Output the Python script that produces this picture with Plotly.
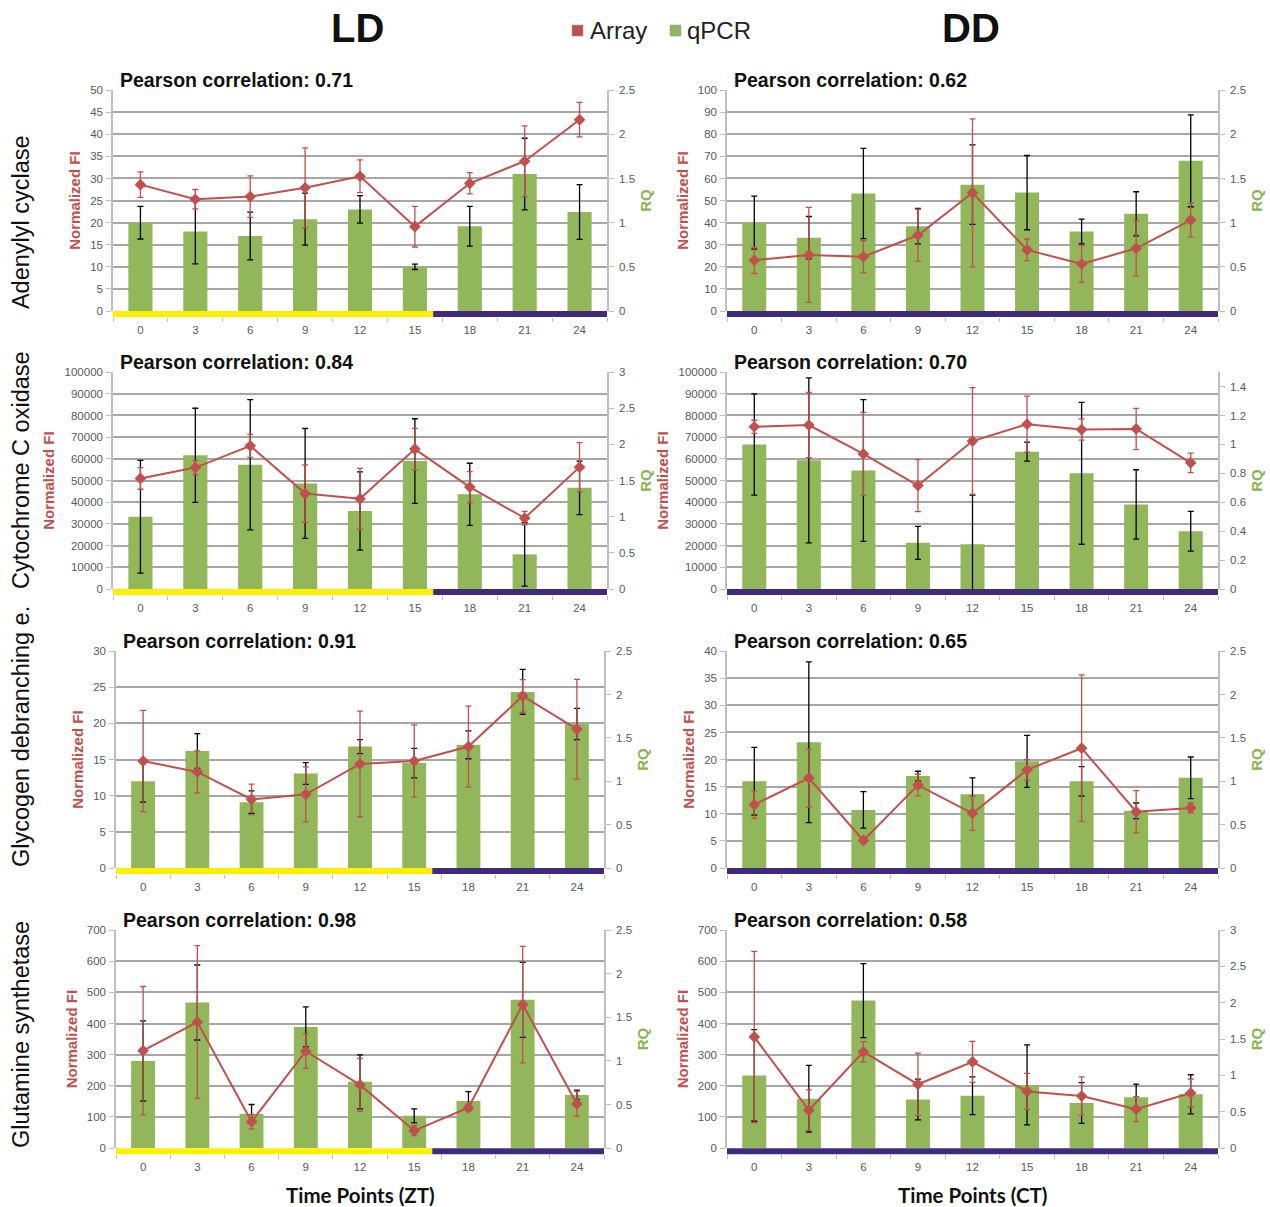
import plotly.graph_objects as go

# ---------------- data ----------------
times = [0, 3, 6, 9, 12, 15, 18, 21, 24]
time_labels = [str(t) for t in times]
light_end_hours = 16  # LD: light until ZT16

genes = ["Adenylyl cyclase", "Cytochrome C oxidase", "Glycogen debranching e.", "Glutamine synthetase"]

# Adenylyl cyclase, LD
adcy_ld_array = [28.6, 25.3, 25.9, 27.9, 30.5, 19.1, 28.9, 33.9, 43.3]
adcy_ld_array_err = [2.9, 2.2, 4.7, 9.0, 3.7, 4.6, 2.4, 8.0, 3.9]
adcy_ld_qpcr = [1.0, 0.9, 0.85, 1.04, 1.15, 0.5, 0.96, 1.55, 1.12]
adcy_ld_qpcr_err = [0.185, 0.365, 0.27, 0.295, 0.155, 0.03, 0.225, 0.405, 0.31]
# Adenylyl cyclase, DD
adcy_dd_array = [23.0, 25.4, 24.6, 34.3, 53.5, 27.7, 21.3, 28.4, 41.2]
adcy_dd_array_err = [6.0, 21.5, 7.3, 11.8, 33.5, 4.9, 8.3, 12.5, 7.7]
adcy_dd_qpcr = [1.0, 0.83, 1.33, 0.96, 1.43, 1.34, 0.9, 1.1, 1.7]
adcy_dd_qpcr_err = [0.3, 0.24, 0.51, 0.2, 0.45, 0.42, 0.14, 0.25, 0.52]
# Cytochrome C oxidase, LD
cox_ld_array = [51000, 56000, 66000, 44000, 41600, 64500, 47000, 32700, 56200]
cox_ld_array_err = [5000, 3200, 5300, 13200, 14000, 9600, 7100, 3100, 11300]
cox_ld_qpcr = [1.0, 1.85, 1.72, 1.46, 1.08, 1.77, 1.31, 0.48, 1.4]
cox_ld_qpcr_err = [0.78, 0.65, 0.9, 0.76, 0.54, 0.585, 0.43, 0.44, 0.37]
# Cytochrome C oxidase, DD
cox_dd_array = [74800, 75600, 62300, 47700, 68200, 76000, 73500, 73800, 58200]
cox_dd_array_err = [3000, 15000, 19100, 12000, 24600, 12900, 4900, 9500, 4500]
cox_dd_qpcr = [1.0, 0.89, 0.82, 0.32, 0.31, 0.95, 0.8, 0.585, 0.4]
cox_dd_qpcr_err = [0.35, 0.57, 0.49, 0.114, 0.34, 0.066, 0.49, 0.24, 0.137]
# Glycogen debranching enzyme, LD
gde_ld_array = [14.8, 13.3, 9.5, 10.2, 14.4, 14.8, 16.8, 23.8, 19.2]
gde_ld_array_err = [7.0, 2.9, 2.1, 3.8, 7.3, 5.0, 5.6, 2.25, 6.9]
gde_ld_qpcr = [1.0, 1.35, 0.76, 1.09, 1.4, 1.21, 1.42, 2.03, 1.66]
gde_ld_qpcr_err = [0.24, 0.2, 0.13, 0.125, 0.08, 0.17, 0.16, 0.26, 0.18]
# Glycogen debranching enzyme, DD
gde_dd_array = [11.7, 16.6, 5.1, 15.3, 10.1, 18.1, 22.1, 10.4, 11.1]
gde_dd_array_err = [2.55, 5.35, 0.6, 2.0, 3.15, 1.9, 13.5, 3.9, 0.9]
gde_dd_qpcr = [1.0, 1.45, 0.67, 1.06, 0.85, 1.23, 1.0, 0.66, 1.04]
gde_dd_qpcr_err = [0.39, 0.925, 0.21, 0.056, 0.19, 0.3, 0.17, 0.09, 0.24]
# Glutamine synthetase, LD
gs_ld_array = [313, 405, 85, 311, 203, 56, 130, 461, 142]
gs_ld_array_err = [206, 245, 23, 55, 85, 16, 10, 187, 40]
gs_ld_qpcr = [1.0, 1.67, 0.39, 1.39, 0.76, 0.37, 0.54, 1.7, 0.61]
gs_ld_qpcr_err = [0.46, 0.43, 0.11, 0.23, 0.31, 0.08, 0.107, 0.43, 0.055]
# Glutamine synthetase, DD
gs_dd_array = [357, 122, 309, 205, 277, 182, 167, 125, 177]
gs_dd_array_err = [275, 65, 33, 100, 66, 58, 62, 40, 45]
gs_dd_qpcr = [1.0, 0.68, 2.03, 0.67, 0.72, 0.87, 0.62, 0.70, 0.74]
gs_dd_qpcr_err = [0.63, 0.46, 0.51, 0.28, 0.26, 0.55, 0.28, 0.18, 0.27]

pearson = ["0.71", "0.62", "0.84", "0.70", "0.91", "0.65", "0.98", "0.58"]

# ---------------- styling / layout ----------------
W, H = 1270, 1207
RED = "#c0504d"
GREEN = "#92b65a"
YELLOW = "#ffef00"
PURPLE = "#3f2a7c"
GRID = "#a6a6a6"
AXC = "#bfbfbf"
TICKC = "#595959"
FONT = "Liberation Sans, Arial, sans-serif"


def py(y):
    """target pixel row -> layout pixel row (compensates the viewer's vertical fit)"""
    return y / 0.990 - 6


def fy(y):
    return 1 - py(y) / H


panels = [
    # array, array_err, qpcr, qpcr_err, left_max, left_dtick, right_max, right_dtick, LD?, (x0,x1), (ytop,ybot)
    (adcy_ld_array, adcy_ld_array_err, adcy_ld_qpcr, adcy_ld_qpcr_err, 50, 5, 2.5, 0.5, True, (113, 607), (90, 311)),
    (adcy_dd_array, adcy_dd_array_err, adcy_dd_qpcr, adcy_dd_qpcr_err, 100, 10, 2.5, 0.5, False, (727, 1218), (90, 311)),
    (cox_ld_array, cox_ld_array_err, cox_ld_qpcr, cox_ld_qpcr_err, 100000, 10000, 3, 0.5, True, (113, 607), (372, 589)),
    (cox_dd_array, cox_dd_array_err, cox_dd_qpcr, cox_dd_qpcr_err, 100000, 10000, 1.5, 0.2, False, (727, 1218), (372, 589)),
    (gde_ld_array, gde_ld_array_err, gde_ld_qpcr, gde_ld_qpcr_err, 30, 5, 2.5, 0.5, True, (116, 604), (651, 868)),
    (gde_dd_array, gde_dd_array_err, gde_dd_qpcr, gde_dd_qpcr_err, 40, 5, 2.5, 0.5, False, (727, 1218), (651, 868)),
    (gs_ld_array, gs_ld_array_err, gs_ld_qpcr, gs_ld_qpcr_err, 700, 100, 2.5, 0.5, True, (116, 604), (930, 1148)),
    (gs_dd_array, gs_dd_array_err, gs_dd_qpcr, gs_dd_qpcr_err, 700, 100, 3, 0.5, False, (727, 1218), (930, 1148)),
]

step = times[1] - times[0]
xr = [times[0] - step / 2, times[-1] + step / 2]
BAND = 6

fig = go.Figure()
layout = dict(
    width=W, height=H, margin=dict(l=0, r=0, t=0, b=0), autosize=False,
    paper_bgcolor="white", plot_bgcolor="white", showlegend=False,
    font=dict(family=FONT, color=TICKC),
)
shapes, annotations = [], []


def yname(n):
    return "yaxis" if n == 1 else f"yaxis{n}"


def yref(n):
    return "y" if n == 1 else f"y{n}"


for k, (arr, arr_err, q, q_err, lmax, ldt, rmax, rdt, is_ld, (px0, px1), (pyt, pyb)) in enumerate(panels):
    xid = k + 1
    ybase, ybar, yline = 3 * k + 1, 3 * k + 2, 3 * k + 3
    xname = "xaxis" if xid == 1 else f"xaxis{xid}"
    xref = "x" if xid == 1 else f"x{xid}"

    xdom = [px0 / W, px1 / W]
    ydom = [fy(pyb), fy(pyt)]
    band_bottom = fy(pyb + BAND)

    layout[xname] = dict(
        domain=xdom, anchor="free", position=band_bottom, range=xr,
        tickmode="array", tickvals=times, ticktext=time_labels, ticks="",
        showgrid=False, zeroline=False, showline=False,
        tickfont=dict(size=11.5, color=TICKC), ticklabelstandoff=4,
        minor=dict(ticks="outside", tick0=xr[0], dtick=step, ticklen=4,
                   tickcolor=AXC, tickwidth=1, showgrid=False),
    )
    layout[yname(ybase)] = dict(
        domain=ydom, anchor=xref, side="left", range=[0, lmax], tick0=0, dtick=ldt,
        tickformat="d", ticks="outside", ticklen=5, tickcolor=AXC,
        showline=True, linecolor=AXC, linewidth=1.5,
        showgrid=True, gridcolor=GRID, gridwidth=1.5, zeroline=False,
        tickfont=dict(size=11.5, color=TICKC), ticklabelstandoff=1,
        title=dict(text="<b>Normalized FI</b>", font=dict(size=15, color=RED), standoff=6),
    )
    layout[yname(ybar)] = dict(
        domain=ydom, overlaying=yref(ybase), anchor=xref, side="right", range=[0, rmax], tick0=0, dtick=rdt,
        ticks="outside", ticklen=5, tickcolor=AXC,
        showline=True, linecolor=AXC, linewidth=1.5,
        showgrid=False, zeroline=False,
        tickfont=dict(size=11.5, color=TICKC), ticklabelstandoff=3,
        title=dict(text="<b>RQ</b>", font=dict(size=15, color="#8cb452"), standoff=6),
    )
    layout[yname(yline)] = dict(
        domain=ydom, overlaying=yref(ybase), anchor=xref, range=[0, lmax], visible=False,
    )

    # placeholder trace holding the base (gridline) axis of this panel
    fig.add_trace(go.Scatter(x=times, y=[None] * len(times), xaxis=xref, yaxis=yref(ybase),
                             mode="markers", hoverinfo="skip", showlegend=False))
    fig.add_trace(go.Bar(
        x=times, y=q, width=step * 0.44, xaxis=xref, yaxis=yref(ybar), name="qPCR",
        marker=dict(color=GREEN, line=dict(width=0)),
        error_y=dict(type="data", array=q_err, color="black", thickness=1.3, width=3),
    ))
    fig.add_trace(go.Scatter(
        x=times, y=arr, xaxis=xref, yaxis=yref(yline), name="Array", mode="lines+markers",
        line=dict(color=RED, width=2), marker=dict(symbol="diamond", size=9, color=RED),
        error_y=dict(type="data", array=arr_err, color=RED, thickness=1.3, width=3),
        cliponaxis=False,
    ))

    # light / dark band
    if is_ld:
        shapes.append(dict(type="rect", xref=xref, yref="paper", x0=xr[0], x1=light_end_hours,
                           y0=band_bottom, y1=ydom[0], fillcolor=YELLOW, line=dict(width=0), layer="above"))
        shapes.append(dict(type="rect", xref=xref, yref="paper", x0=light_end_hours, x1=xr[1],
                           y0=band_bottom, y1=ydom[0], fillcolor=PURPLE, line=dict(width=0), layer="above"))
    else:
        shapes.append(dict(type="rect", xref=xref, yref="paper", x0=xr[0], x1=xr[1],
                           y0=band_bottom, y1=ydom[0], fillcolor=PURPLE, line=dict(width=0), layer="above"))

    annotations.append(dict(
        text=f"<b>Pearson correlation: {pearson[k]}</b>", xref="paper", yref="paper",
        x=(px0 + 5) / W, y=fy(pyt - 10), xanchor="left", yanchor="middle",
        showarrow=False, font=dict(size=19.5, color="#111111", family=FONT),
    ))

# row labels
row_centers = [222, 470, 737, 1035]
for g, yc in zip(genes, row_centers):
    annotations.append(dict(text=g, xref="paper", yref="paper", x=21 / W, y=fy(yc),
                            textangle=-90, showarrow=False, xanchor="center", yanchor="middle",
                            font=dict(size=23.5, color="#111111", family=FONT)))

# column headers
for txt, xc in (("LD", 357), ("DD", 971)):
    annotations.append(dict(text=f"<b>{txt}</b>", xref="paper", yref="paper", x=xc / W, y=fy(28),
                            xanchor="center", yanchor="middle",
                            showarrow=False, font=dict(size=40, color="#111111", family=FONT)))

# legend
for color, xl in ((RED, 572), (GREEN, 670)):
    shapes.append(dict(type="rect", xref="paper", yref="paper", x0=xl / W, x1=(xl + 11) / W,
                       y0=fy(36), y1=fy(25), fillcolor=color, line=dict(color="#999999", width=0.5)))
for txt, xl in (("Array", 588), ("qPCR", 685)):
    annotations.append(dict(text=txt, xref="paper", yref="paper", x=xl / W, y=fy(30),
                            xanchor="left", yanchor="middle", showarrow=False,
                            font=dict(size=24, color="#222222", family=FONT)))

# x axis titles
for txt, xc in (("Time Points (ZT)", 360), ("Time Points (CT)", 972)):
    annotations.append(dict(text=f"<b>{txt}</b>", xref="paper", yref="paper", x=xc / W, y=fy(1195),
                            xanchor="center", yanchor="middle", showarrow=False,
                            font=dict(size=20.5, color="#111111", family="Lato, " + FONT)))

layout["shapes"] = shapes
layout["annotations"] = annotations
fig.update_layout(**layout)
fig.write_html(
    "out.html",
    config={"displayModeBar": False},
    post_script=(
        "document.documentElement.style.overflow='hidden';"
        "document.body.style.margin='0px';"
        "document.body.style.overflow='hidden';"
    ),
)
